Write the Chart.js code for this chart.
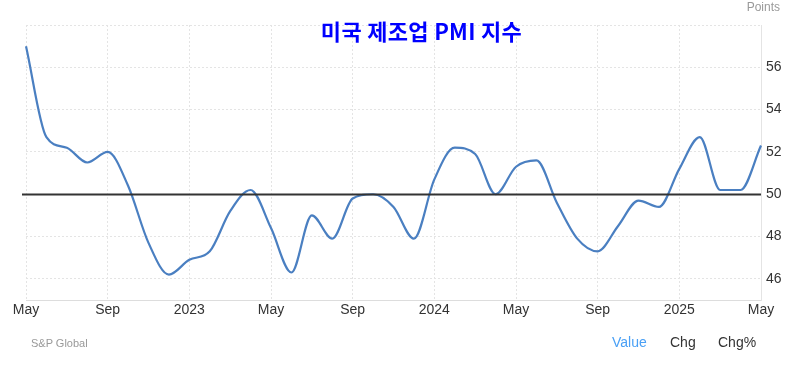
<!DOCTYPE html>
<html>
<head>
<meta charset="utf-8">
<script src="https://cdn.jsdelivr.net/npm/chart.js@4.4.1/dist/chart.umd.min.js"></script>
<style>
  body { margin: 0; background: #fff; font-family: "Liberation Sans", Arial, sans-serif; }
  #wrap { position: relative; width: 795px; height: 366px; }
  #title { position: absolute; left: 0; width: 843px; top: 14px; text-align: center;
           font: bold 22px "Noto Sans CJK KR", sans-serif; color: #0000ff; letter-spacing: 0.3px; }
  #unit { position: absolute; right: 15px; top: 0px; font-size: 12px; color: #999; }
  #src { position: absolute; left: 31px; top: 337px; font-size: 11px; color: #999; }
  #tabs { position: absolute; left: 612px; top: 334px; font-size: 14px; color: #333; }
  #tabs span { position: absolute; white-space: nowrap; }
</style>
</head>
<body>
<div id="wrap">
  <canvas id="pmiChart" width="795" height="366"></canvas>
  <div id="title">미국 제조업 PMI 지수</div>
  <div id="unit">Points</div>
  <div id="src">S&amp;P Global</div>
  <div id="tabs"><span style="left:0;color:#4aa0f5">Value</span><span style="left:58px">Chg</span><span style="left:106px">Chg%</span></div>
</div>
<script>
// monthly, May 2022 .. May 2025
const months = ['May', 'Jun', 'Jul', 'Aug', 'Sep', 'Oct', 'Nov', 'Dec',
  '2023', 'Feb', 'Mar', 'Apr', 'May', 'Jun', 'Jul', 'Aug', 'Sep', 'Oct', 'Nov', 'Dec',
  '2024', 'Feb', 'Mar', 'Apr', 'May', 'Jun', 'Jul', 'Aug', 'Sep', 'Oct', 'Nov', 'Dec',
  '2025', 'Feb', 'Mar', 'Apr', 'May'];
const pmi = [57.0, 52.7, 52.2, 51.5, 52.0, 50.4, 47.7, 46.2,
  46.9, 47.3, 49.2, 50.2, 48.4, 46.3, 49.0, 47.9, 49.8, 50.0, 49.4, 47.9,
  50.7, 52.2, 51.9, 50.0, 51.3, 51.6, 49.6, 47.9, 47.3, 48.5, 49.7, 49.4,
  51.2, 52.7, 50.2, 50.2, 52.3];
const yTicks = [46, 48, 50, 52, 54, 56, 58];
const refLevel = 50;

const refLine = {
  id: 'refLine',
  afterDatasetsDraw(chart) {
    const { ctx, chartArea, scales } = chart;
    const y = Math.round(scales.y.getPixelForValue(refLevel)) + 0.5;
    ctx.save();
    ctx.strokeStyle = '#333';
    ctx.lineWidth = 1.8;
    ctx.beginPath();
    ctx.moveTo(chartArea.left - 4, y);
    ctx.lineTo(chartArea.right, y);
    ctx.stroke();
    ctx.restore();
  }
};

const ctx = document.getElementById('pmiChart').getContext('2d');
new Chart(ctx, {
  type: 'line',
  data: {
    labels: months,
    datasets: [{
      data: pmi,
      borderColor: '#4a7fc1',
      borderWidth: 2.2,
      pointRadius: 0,
      fill: false,
      cubicInterpolationMode: 'monotone'
    }]
  },
  plugins: [refLine],
  options: {
    responsive: false,
    animation: false,
    layout: { padding: { left: 26, top: 25, right: 0, bottom: 0 } },
    plugins: { legend: { display: false }, tooltip: { enabled: false } },
    scales: {
      x: {
        offset: false,
        grid: {
          drawTicks: false,
          color: (c) => (c.index % 4 === 0 ? '#e4e4e4' : 'transparent'),
          lineWidth: 1
        },
        border: { display: true, color: '#dddddd', dash: [2, 2] },
        ticks: {
          autoSkip: false,
          maxRotation: 0,
          padding: 2,
          color: '#333',
          font: { family: 'Liberation Sans', size: 14 },
          callback: (v, i) => (i % 4 === 0 ? months[i] : '')
        },
        afterFit: (s) => { s.height = 66; }
      },
      y: {
        position: 'right',
        min: 45,
        max: 58,
        afterBuildTicks: (s) => { s.ticks = yTicks.map(v => ({ value: v })); },
        grid: { drawTicks: false, color: '#e4e4e4' },
        border: { display: true, color: '#e4e4e4', dash: [2, 2] },
        ticks: {
          padding: 5,
          color: '#333',
          font: { family: 'Liberation Sans', size: 14 },
          callback: (v) => (v === 58 ? '' : v)
        },
        afterFit: (s) => { s.width = 34; }
      }
    }
  }
});
</script>
</body>
</html>
